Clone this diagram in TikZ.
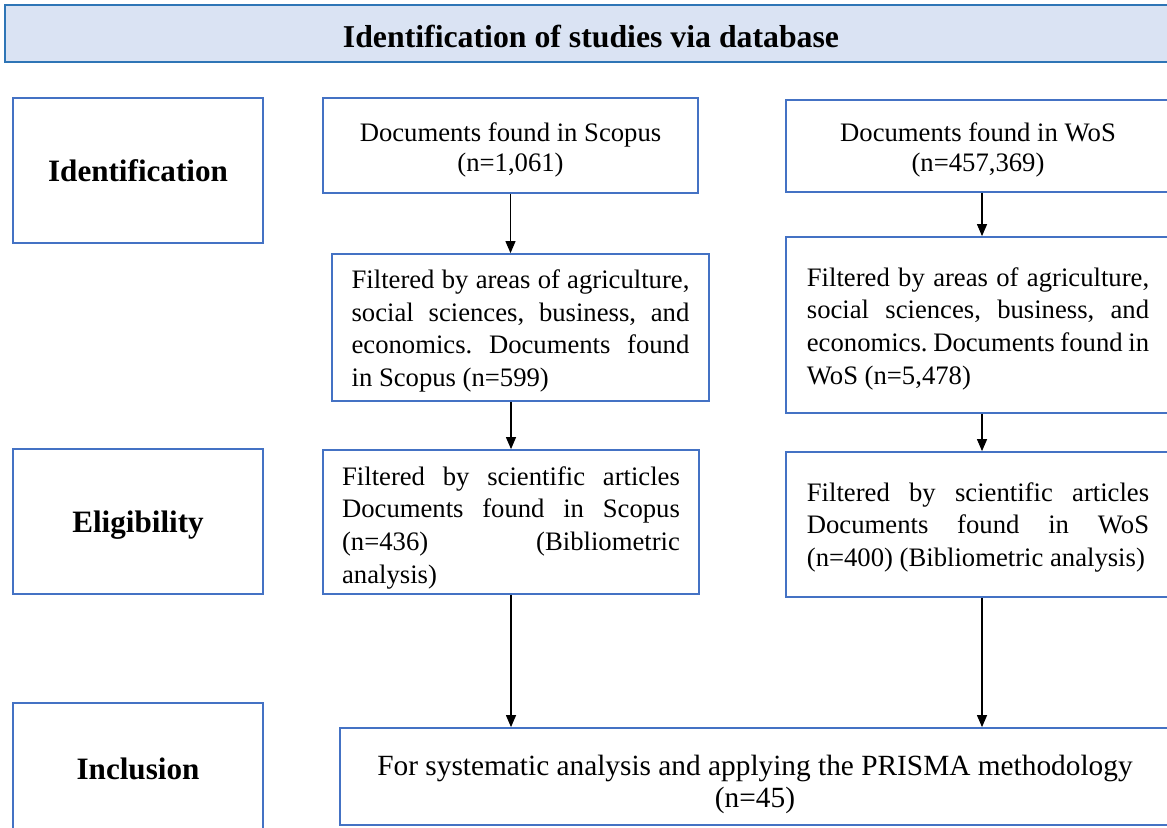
\documentclass[tikz,border=0pt]{standalone}
\usepackage{fontspec}
\setmainfont{Liberation Serif}
\usetikzlibrary{arrows.meta}
\definecolor{boxblue}{RGB}{68,114,196}
\definecolor{bandblue}{RGB}{46,117,182}
\definecolor{bandfill}{RGB}{218,227,243}
\hyphenpenalty=10000
\frenchspacing
\newcommand{\topgap}[1]{\rule{0pt}{#1}}
\begin{document}
\begin{tikzpicture}[x=0.45pt,y=-0.45pt]
		\tikzstyle{box}=[rectangle,draw=boxblue,line width=0.8pt,inner sep=0pt,font=\fontsize{12}{14.7}\selectfont]
		\tikzstyle{phase}=[box,font=\fontsize{14}{17}\selectfont\bfseries,text height=10.2pt,text depth=0pt,minimum width=112.5pt,minimum height=65.25pt]
		\tikzstyle{jbox}=[box,align=justify]
		\useasboundingbox (0,0) rectangle (1167,827);

		\node[rectangle,draw=bandblue,fill=bandfill,line width=1.3pt,minimum width=527.4pt,minimum height=25.65pt,text height=12.4pt,text depth=0pt,font=\fontsize{14.3}{17}\selectfont\bfseries] (band) at (591,33.5) {Identification of studies via database};

		\node[phase] (ident) at (138,170.5) {Identification};
		\node[phase] (elig)  at (138,521.5) {Eligibility};
		\node[phase,minimum height=58.5pt] (incl) at (138,768) {Inclusion};

		\node[box,align=center,font=\fontsize{12}{13.5}\selectfont,minimum width=168.75pt,minimum height=42.75pt] (scop1) at (510.5,145.5) {\topgap{12.2pt}Documents found in Scopus\\(n=1,061)};
		\node[jbox,text width=152pt,minimum width=169.65pt,minimum height=66.15pt] (scop2) at (520.5,327.5) {\topgap{11.6pt}Filtered by areas of agriculture,\linebreak social sciences, business, and\linebreak economics. Documents found\linebreak in Scopus (n=599)};
		\node[jbox,text width=152pt,minimum width=169.2pt,minimum height=64.8pt] (scop3) at (511,522) {\topgap{13.4pt}Filtered by scientific articles\linebreak Documents found in Scopus\linebreak (n=436) (Bibliometric\linebreak analysis)};

		\node[box,align=center,font=\fontsize{12}{13.5}\selectfont,minimum width=172.8pt,minimum height=41.4pt] (wos1) at (978,146) {\topgap{12.2pt}Documents found in WoS\\(n=457,369)};
		\node[jbox,text width=154pt,minimum width=172.8pt,minimum height=79.2pt] (wos2) at (978,325) {\topgap{11.8pt}Filtered by areas of agriculture,\linebreak social sciences, business, and\linebreak economics. Documents found in\linebreak WoS (n=5,478)};
		\node[jbox,text width=154pt,minimum width=172.8pt,minimum height=65.25pt] (wos3) at (978,524.5) {\topgap{11pt}Filtered by scientific articles\linebreak Documents found in WoS\linebreak (n=400) (Bibliometric analysis)};

		\node[box,align=center,font=\fontsize{13.2}{14.4}\selectfont,minimum width=373.5pt,minimum height=43.65pt] (final) at (755,776.5) {\topgap{16.4pt}For systematic analysis and applying the PRISMA methodology\\(n=45)};

		\path[-{Triangle[length=5.4pt,width=4.5pt]},line width=0.5pt]
		(scop1.south) edge (scop1.south |- scop2.north)
		(scop3.north |- scop2.south) edge (scop3.north)
		(scop3.south) edge (scop3.south |- final.north)
		([xshift=1.8pt]wos1.south) edge ([xshift=1.8pt]wos2.north)
		([xshift=1.8pt]wos2.south) edge ([xshift=1.8pt]wos3.north)
		([xshift=1.8pt]wos3.south) edge ([xshift=1.8pt]wos3.south |- final.north)
		;
		\end{tikzpicture}
\end{document}
